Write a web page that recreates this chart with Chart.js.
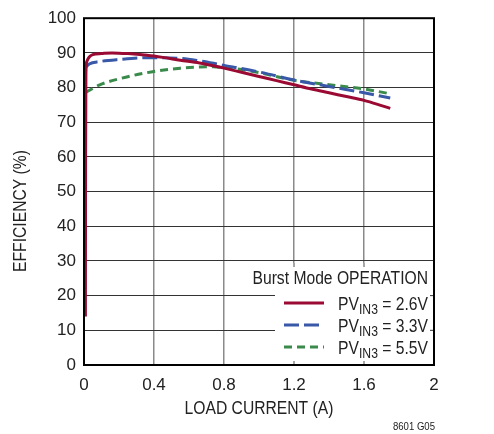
<!DOCTYPE html>
<html><head><meta charset="utf-8">
<script src="https://cdn.jsdelivr.net/npm/chart.js@4/dist/chart.umd.min.js"></script>
<style>html,body{margin:0;padding:0;background:#fff}#wrap{width:494px;height:434px}</style>
</head><body><div id="wrap"><canvas id="c" width="494" height="434"></canvas></div>
<script>
const xTicks = [0, 0.4, 0.8, 1.2, 1.6, 2];
const yTicks = [0, 10, 20, 30, 40, 50, 60, 70, 80, 90, 100];
const seriesNames = ['2.6V', '3.3V', '5.5V'];
const xRed = [0.008, 0.009, 0.011, 0.016, 0.03, 0.05, 0.1, 0.16, 0.25, 0.36, 0.45, 0.55, 0.66, 0.74, 0.8, 0.9, 1.0, 1.1, 1.2, 1.3, 1.4, 1.5, 1.6, 1.7, 1.75];
const yRed = [14, 60, 84, 87.5, 88.8, 89.5, 89.8, 90.0, 89.8, 89.3, 88.7, 87.9, 87.1, 86.3, 85.6, 84.4, 83.2, 82.0, 80.8, 79.6, 78.5, 77.4, 76.3, 74.8, 74.0];
const xBlue = [0.004, 0.03, 0.09, 0.2, 0.36, 0.55, 0.66, 0.74, 0.8, 0.9, 1.0, 1.2, 1.4, 1.6, 1.75];
const yBlue = [85.5, 86.8, 87.5, 88.1, 88.6, 88.4, 87.7, 87.0, 86.4, 85.5, 84.5, 82.2, 80.3, 78.5, 77.0];
const xGreen = [0.01, 0.09, 0.2, 0.36, 0.55, 0.66, 0.74, 0.8, 0.9, 1.0, 1.2, 1.4, 1.6, 1.75];
const yGreen = [78.6, 80.8, 82.5, 84.3, 85.6, 85.9, 86.0, 85.7, 85.2, 84.3, 82.1, 80.8, 79.6, 78.2];

const FONT = '"Liberation Sans", Arial, sans-serif';
const SQ = 0.87;
const colors = ['#9a0a32', '#3a58a8', '#3a8a4c'];
const dashes = [[], [15, 5], [8, 5]];
const toPts = (xs, ys) => xs.map((x, i) => ({x: x, y: ys[i]}));
const pts = [toPts(xRed, yRed), toPts(xBlue, yBlue), toPts(xGreen, yGreen)];

function txt(ctx, s, x, y, size, align, rot) {
  ctx.save();
  ctx.translate(x, y);
  if (rot) ctx.rotate(rot);
  ctx.scale(SQ, 1);
  ctx.font = size + 'px ' + FONT;
  ctx.textAlign = align;
  ctx.fillText(s, 0, 0);
  const w = ctx.measureText(s).width * SQ;
  ctx.restore();
  return w;
}
function tw(ctx, s, size) {
  ctx.save(); ctx.font = size + 'px ' + FONT;
  const w = ctx.measureText(s).width * SQ; ctx.restore(); return w;
}

const deco = {
  id: 'deco',
  afterDatasetsDraw(chart) {
    const ctx = chart.ctx, a = chart.chartArea;
    const xs = chart.scales.x, ys = chart.scales.y;
    ctx.save();
    const bx = 275, by = ys.getPixelForValue(30) + 2, bw = a.right - bx, bh = a.bottom - by;
    ctx.fillStyle = '#fff';
    ctx.fillRect(bx, by, bw, bh);
    ctx.strokeStyle = '#8a8a8a'; ctx.lineWidth = 1.5;
    [1.2, 1.6].forEach(v => {
      const px = xs.getPixelForValue(v);
      ctx.beginPath(); ctx.moveTo(px, by); ctx.lineTo(px, by + 4); ctx.stroke();
      ctx.beginPath(); ctx.moveTo(px, a.bottom - 4); ctx.lineTo(px, a.bottom); ctx.stroke();
    });
    ctx.strokeStyle = '#333'; ctx.lineWidth = 1;
    [10, 20].forEach(v => {
      const py = ys.getPixelForValue(v);
      ctx.beginPath(); ctx.moveTo(a.right - 4, py); ctx.lineTo(a.right, py); ctx.stroke();
    });
    ctx.fillStyle = '#222';
    ctx.textBaseline = 'alphabetic';
    txt(ctx, 'Burst Mode OPERATION', 428, 283.5, 18, 'right');
    const rows = [303, 325, 347];
    rows.forEach((ry, i) => {
      ctx.strokeStyle = colors[i]; ctx.lineWidth = 3; ctx.setLineDash(dashes[i]);
      ctx.beginPath(); ctx.moveTo(284, ry); ctx.lineTo(324, ry); ctx.stroke();
      ctx.setLineDash([]);
      const tail = ' = ' + seriesNames[i];
      const total = tw(ctx, 'PV', 18) + tw(ctx, 'IN3', 14) + tw(ctx, tail, 18);
      let x = 428 - total;
      x += txt(ctx, 'PV', x, ry + 6.5, 18, 'left');
      x += txt(ctx, 'IN3', x, ry + 11, 14, 'left');
      txt(ctx, tail, x, ry + 6.5, 18, 'left');
    });
    ctx.restore();
  },
  afterDraw(chart) {
    const ctx = chart.ctx, a = chart.chartArea;
    ctx.save();
    ctx.strokeStyle = '#000'; ctx.lineWidth = 2;
    ctx.strokeRect(a.left, a.top, a.right - a.left, a.bottom - a.top);
    ctx.fillStyle = '#222';
    ctx.textBaseline = 'middle';
    txt(ctx, 'LOAD CURRENT (A)', (a.left + a.right) / 2, 409, 18, 'center');
    txt(ctx, 'EFFICIENCY (%)', 21, 211, 18, 'center', -Math.PI / 2);
    txt(ctx, '8601 G05', 435, 427, 11, 'right');
    ctx.restore();
  }
};

new Chart(document.getElementById('c'), {
  type: 'scatter',
  data: {
    datasets: pts.map((p, i) => ({
      label: seriesNames[i], data: p, showLine: true, pointRadius: 0,
      borderColor: colors[i], borderWidth: 3, borderDash: dashes[i],
      cubicInterpolationMode: 'monotone', fill: false
    }))
  },
  options: {
    responsive: false, animation: false,
    layout: {padding: {left: 0, top: 14, right: 60, bottom: 0}},
    plugins: {legend: {display: false}, tooltip: {enabled: false}},
    scales: {
      x: {
        type: 'linear', min: 0, max: 2,
        afterFit: s => { s.height = 69; },
        afterBuildTicks: s => { s.ticks = xTicks.map(v => ({value: v})); },
        grid: {color: '#8a8a8a', lineWidth: 1.5, drawTicks: false},
        border: {display: false},
        ticks: {font: {family: FONT, size: 17}, color: '#222', padding: 10, maxRotation: 0,
          callback: v => String(v)}
      },
      y: {
        type: 'linear', min: 0, max: 100,
        afterFit: s => { s.width = 84; },
        afterBuildTicks: s => { s.ticks = yTicks.map(v => ({value: v})); },
        grid: {color: '#333', lineWidth: 1, drawTicks: false},
        border: {display: false},
        ticks: {font: {family: FONT, size: 17}, color: '#222', padding: 8,
          callback: v => String(v)}
      }
    }
  },
  plugins: [deco]
});
</script></body></html>
